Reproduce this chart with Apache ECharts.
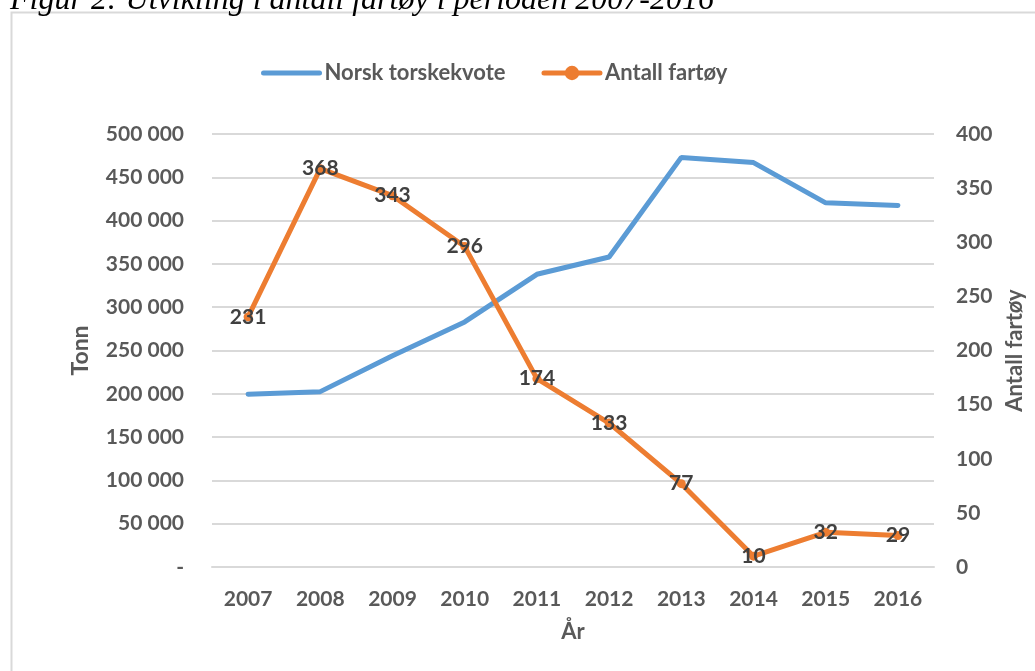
<!DOCTYPE html>
<html>
<head>
<meta charset="utf-8">
<title>Figur 2</title>
<script src="https://cdn.jsdelivr.net/npm/echarts@6/dist/echarts.min.js"></script>
<style>
  html, body { margin: 0; padding: 0; background: #fff; }
  #main { width: 1035px; height: 671px; }
</style>
</head>
<body>
<div id="main"></div>
<script>
// data
var years = ['2007', '2008', '2009', '2010', '2011', '2012', '2013', '2014', '2015', '2016'];
var kvote = [199500, 202500, 244000, 283000, 338000, 358000, 473000, 467000, 420500, 417500];
var fartoy = [231, 368, 343, 296, 174, 133, 77, 10, 32, 29];
var leftMax = 500000, leftStep = 50000;
var rightMax = 400, rightStep = 50;

var chart = echarts.init(document.getElementById('main'));
var font = 'Lato, "Open Sans", sans-serif';
var grey = '#595959';

// 0 shows as "-", others with space as thousand separator
function fmtTonn(v) {
  if (v === 0) return '-';
  return String(v).replace(/\B(?=(\d{3})+(?!\d))/g, ' ');
}

var option = {
  backgroundColor: '#fff',
  animation: false,
  textStyle: { fontFamily: font },
  graphic: [
    {
      type: 'rect',
      shape: { x: 11.5, y: 12.5, width: 1040, height: 680 },
      style: { fill: 'none', stroke: '#d9d9d9', lineWidth: 2 }
    },
    {
      type: 'text',
      left: 10, top: -15,
      style: {
        text: 'Figur 2: Utvikling i antall fartøy i perioden 2007-2016',
        font: 'italic 32px "Liberation Serif", "DejaVu Serif", serif',
        fill: '#000'
      }
    }
  ],
  legend: {
    top: 57,
    left: 256,
    itemWidth: 56,
    itemHeight: 18,
    itemGap: 36,
    textStyle: { color: grey, fontSize: 22, fontWeight: 'bold', fontFamily: font },
    data: [
      { name: 'Norsk torskekvote', itemStyle: { opacity: 0 }, lineStyle: { width: 5, cap: 'round' } },
      { name: 'Antall fartøy', lineStyle: { width: 5, cap: 'round' } }
    ]
  },
  grid: { left: 212, right: 101, top: 134, bottom: 104 },
  xAxis: {
    type: 'category',
    data: years,
    boundaryGap: true,
    name: 'År',
    nameLocation: 'middle',
    nameGap: 54,
    nameTextStyle: { color: grey, fontSize: 22, fontWeight: 'bold' },
    axisLine: { show: true, lineStyle: { color: '#d9d9d9', width: 2 } },
    axisTick: { show: false },
    axisLabel: { color: grey, fontSize: 21, fontWeight: 'bold', margin: 22 }
  },
  yAxis: [
    {
      type: 'value',
      min: 0, max: leftMax, interval: leftStep,
      name: 'Tonn',
      nameLocation: 'middle',
      nameGap: 120,
      nameTextStyle: { color: grey, fontSize: 23, fontWeight: 'bold' },
      axisLine: { show: false },
      axisTick: { show: false },
      axisLabel: { color: grey, fontSize: 21, fontWeight: 'bold', margin: 28, formatter: fmtTonn },
      splitLine: { lineStyle: { color: '#d9d9d9', width: 2 } }
    },
    {
      type: 'value',
      min: 0, max: rightMax, interval: rightStep,
      name: 'Antall fartøy',
      nameLocation: 'middle',
      nameGap: 70,
      nameRotate: 90,
      nameTextStyle: { color: grey, fontSize: 22, fontWeight: 'bold' },
      axisLine: { show: false },
      axisTick: { show: false },
      axisLabel: { color: grey, fontSize: 21, fontWeight: 'bold', margin: 22 },
      splitLine: { show: false }
    }
  ],
  series: [
    {
      name: 'Norsk torskekvote',
      type: 'line',
      yAxisIndex: 0,
      data: kvote,
      symbol: 'none',
      lineStyle: { color: '#5B9BD5', width: 5, cap: 'round' },
      itemStyle: { color: '#5B9BD5' }
    },
    {
      name: 'Antall fartøy',
      type: 'line',
      yAxisIndex: 1,
      data: fartoy,
      symbol: 'circle',
      symbolSize: 9,
      lineStyle: { color: '#ED7D31', width: 5 },
      itemStyle: { color: '#ED7D31' },
      label: {
        show: true,
        position: 'inside',
        color: '#404040',
        fontSize: 21,
        fontWeight: 'bold',
        fontFamily: font
      },
      z: 3
    }
  ]
};
chart.setOption(option);
</script>
</body>
</html>
